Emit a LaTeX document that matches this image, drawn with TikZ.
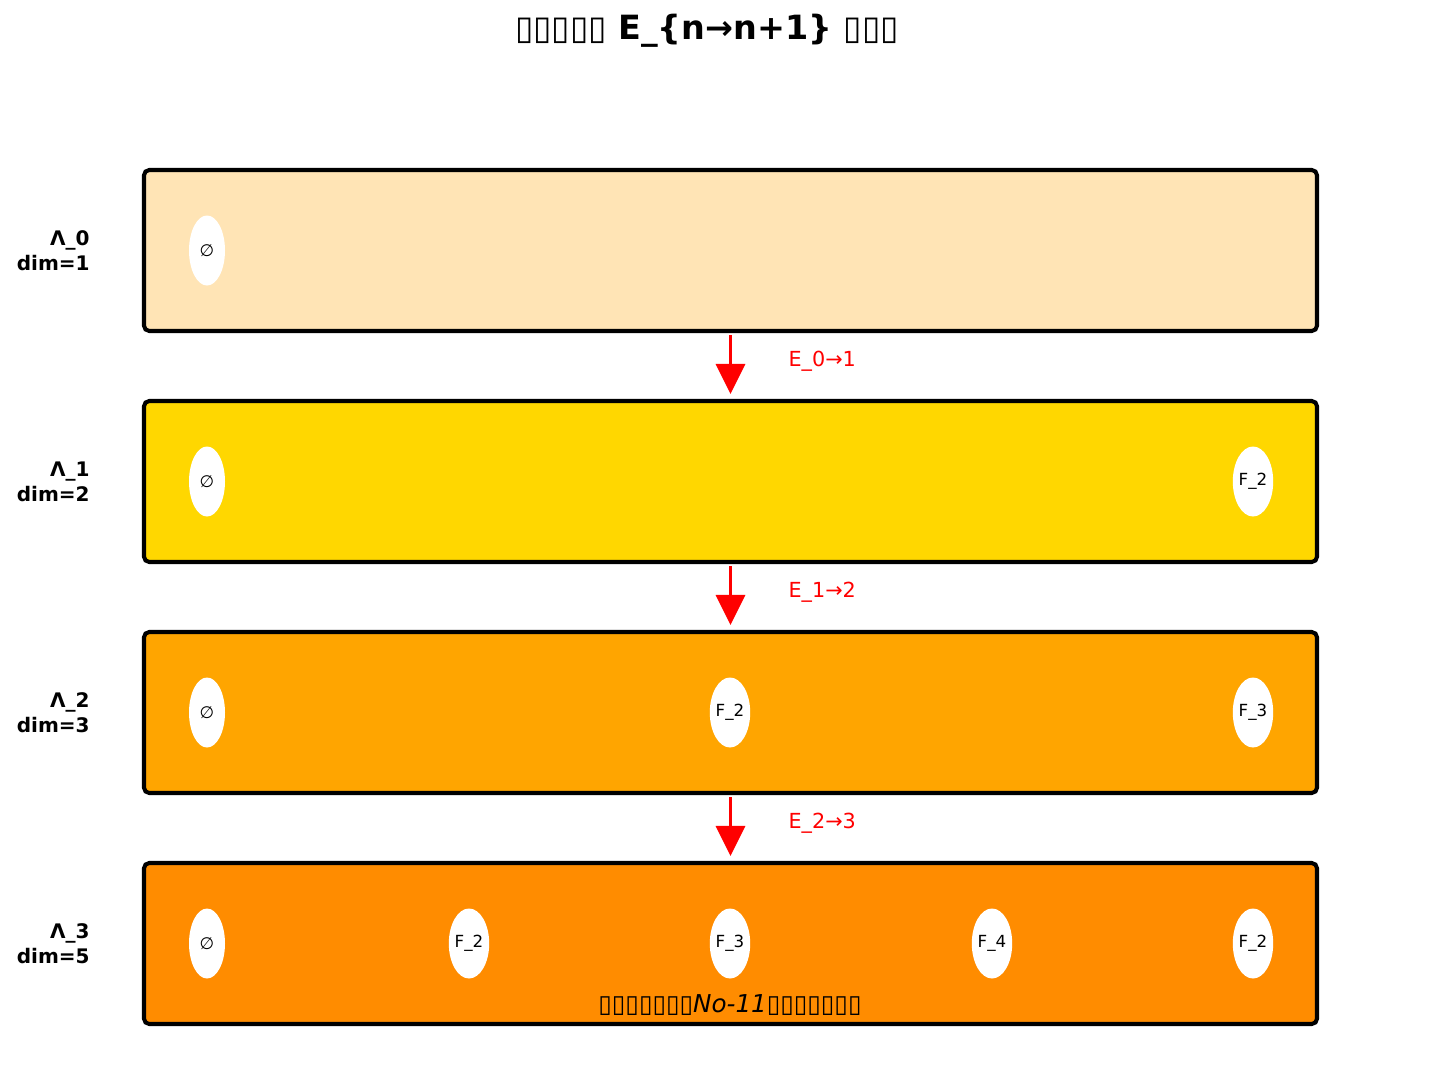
\documentclass[tikz,border=0pt]{standalone}
\usepackage{fontspec}
\setmainfont{DejaVu Sans}
\usetikzlibrary{shapes, arrows.meta, positioning, calc}

\definecolor{lamzero}{HTML}{FFE4B5}
\definecolor{lamone}{HTML}{FFD700}
\definecolor{lamtwo}{HTML}{FFA500}
\definecolor{lamthree}{HTML}{FF8C00}

\tikzset{
  level/.style={draw, line width=2.3pt, rounded corners=3pt, minimum width=23.46cm, minimum height=3.22cm, inner sep=0pt},
  face/.style={ellipse, fill=white, minimum width=0.72cm, minimum height=1.4cm, inner sep=0pt, font=\fontsize{9.5}{11}\selectfont},
  lvlname/.style={anchor=east, align=right, inner sep=0pt, font=\bfseries\fontsize{11.4}{14.2}\selectfont},
  mapstep/.style={red, line width=1.8pt, -{Triangle[width=0.58cm, length=0.6cm]}, shorten <=0.04cm, shorten >=0.1cm},
  maplabel/.style={red, inner sep=0pt, font=\fontsize{11.8}{14}\selectfont}
}

\begin{document}
\begin{tikzpicture}
\useasboundingbox (0, 0) rectangle (28.84, -21.48);

\node[font=\bfseries\fontsize{19}{22}\selectfont] (title) at (14.14, -0.62) {▯▯▯▯▯ E\_\{n→n+1\} ▯▯▯};

% the four levels
\foreach \n/\col/\d in {0/lamzero/1, 1/lamone/2, 2/lamtwo/3, 3/lamthree/5} {
  \node[level, fill=\col] (lam\n) at (14.61, {-5.01-4.62*\n}) {};
  \node[lvlname] (name\n) at (1.8, {-5.01-4.62*\n}) {Λ\_\n\\dim=\d};
}

% strings in each level
\foreach \n/\x/\t [count=\i] in {0/4.14/∅, 1/4.14/∅, 1/25.06/F\_2, 2/4.14/∅, 2/14.6/F\_2, 2/25.06/F\_3,
    3/4.14/∅, 3/9.38/F\_2, 3/14.6/F\_3, 3/19.84/F\_4, 3/25.06/F\_2}
  \node[face] (face\i) at (\x, {-5.01-4.62*\n}) {\t};

\foreach \a/\b in {0/1, 1/2, 2/3}
  \draw[mapstep] (lam\a.south) -- (lam\b.north) node[maplabel, midway, anchor=west, xshift=1.13cm, yshift=0.1cm] (step\a) {E\_\a→\b};

\node[font=\fontsize{14}{16}\selectfont] (note) at (14.6, -20.1) {▯▯▯▯▯▯▯\textit{No-11}▯▯▯▯▯▯▯};

\end{tikzpicture}
\end{document}
